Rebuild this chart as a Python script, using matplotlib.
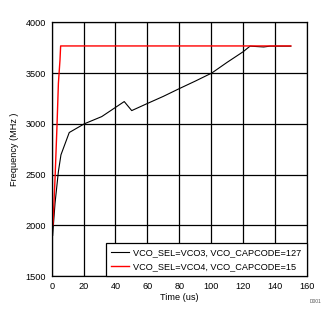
import numpy as np
import matplotlib.pyplot as plt

plt.rcParams['font.family'] = ['Liberation Sans', 'DejaVu Sans']

# VCO_SEL=VCO3, VCO_CAPCODE=127
t_vco3 = [0.6, 1.0, 2.1, 4.2, 5.8, 11, 20.5, 31.4, 45.5, 50.2, 60, 70, 80.5, 90,
          100.4, 110, 120.2, 124.4, 133, 137, 150]
f_vco3 = [1900, 1990, 2220, 2530, 2694, 2914, 3000, 3071, 3219, 3130, 3200, 3270, 3350, 3420,
          3500, 3605, 3711, 3765, 3757, 3765, 3765]

# VCO_SEL=VCO4, VCO_CAPCODE=15
t_vco4 = [0.8, 1.4, 2.1, 3.3, 4.2, 5.2, 5.6, 150]
f_vco4 = [2005, 2220, 2465, 2975, 3400, 3630, 3767, 3767]

x_ticks = np.arange(0, 161, 20)
y_ticks = np.arange(1500, 4001, 500)

fs = 6.6

fig = plt.figure(figsize=(3.36, 3.28), dpi=100)
ax = fig.add_axes([0.1539, 0.1585, 0.759, 0.7735])

ax.plot(t_vco3, f_vco3, color='black', lw=0.8, label='VCO_SEL=VCO3, VCO_CAPCODE=127')
ax.plot(t_vco4, f_vco4, color='red', lw=1.0, label='VCO_SEL=VCO4, VCO_CAPCODE=15')

ax.set_xlim(0, 160)
ax.set_ylim(1500, 4000)
ax.set_xticks(x_ticks)
ax.set_yticks(y_ticks)
ax.grid(True, color='black', lw=0.9)
ax.tick_params(length=0, labelsize=fs, pad=4)
for s in ax.spines.values():
    s.set_linewidth(0.9)

ax.set_xlabel('Time (us)', fontsize=fs, labelpad=2)
ax.set_ylabel('Frequency (MHz )', fontsize=fs, labelpad=5)

leg = ax.legend(loc='lower right', fontsize=fs, frameon=True, fancybox=False,
                borderaxespad=0, handlelength=2.0, handletextpad=0.45,
                borderpad=0.55, labelspacing=0.55)
leg.get_frame().set_edgecolor('black')
leg.get_frame().set_linewidth(0.9)
leg.get_frame().set_alpha(1)

fig.text(0.955, 0.075, 'D001', fontsize=3.5, color='#555555', ha='right')

fig.savefig('out.png', dpi=100)
